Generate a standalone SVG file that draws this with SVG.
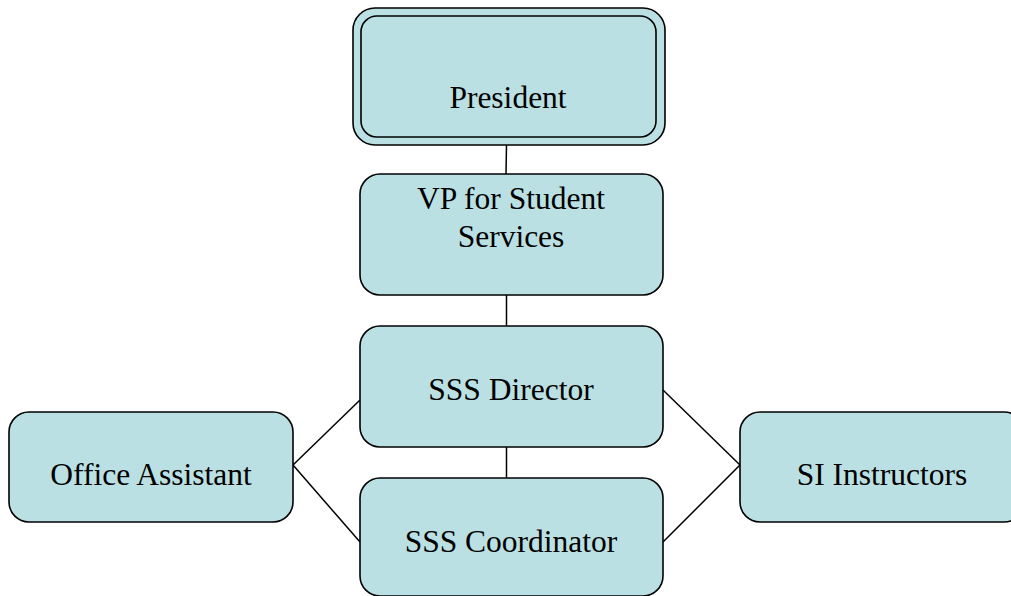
<svg xmlns="http://www.w3.org/2000/svg" width="1011" height="596" viewBox="0 0 1011 596">
  <style>
    .box { fill: #bae0e3; stroke: #000; stroke-width: 1.6; }
    .lbl { font-family: "Liberation Serif", "Times New Roman", serif; font-size: 31.5px; fill: #000; text-anchor: middle; }
    .conn line { stroke: #000; stroke-width: 1.5; }
  </style>
  <rect width="1011" height="596" fill="#fff"/>

  <!-- reporting lines -->
  <g id="connectors" class="conn">
    <line x1="506.5" y1="145" x2="506" y2="174"/>
    <line x1="506.5" y1="295" x2="506.5" y2="326"/>
    <line x1="506.5" y1="447" x2="506.5" y2="478"/>
    <line x1="293" y1="465" x2="360" y2="400"/>
    <line x1="293" y1="465" x2="360" y2="542"/>
    <line x1="663" y1="390" x2="740" y2="465"/>
    <line x1="740" y1="465" x2="663" y2="542"/>
  </g>

  <g id="president">
    <rect class="box" x="353" y="8" width="312" height="137" rx="22"/>
    <rect class="box" x="361" y="16" width="295" height="121" rx="16"/>
    <text class="lbl" x="508" y="108">President</text>
  </g>

  <g id="vp-student-services">
    <rect class="box" x="360" y="174" width="303" height="121" rx="20"/>
    <text class="lbl" x="511" y="209">VP for Student</text>
    <text class="lbl" x="511" y="247">Services</text>
  </g>

  <g id="sss-director">
    <rect class="box" x="360" y="326" width="303" height="121" rx="20"/>
    <text class="lbl" x="511" y="400">SSS Director</text>
  </g>

  <g id="sss-coordinator">
    <rect class="box" x="360" y="478" width="303" height="118" rx="20"/>
    <text class="lbl" x="511" y="552">SSS Coordinator</text>
  </g>

  <g id="office-assistant">
    <rect class="box" x="9" y="412" width="284" height="110" rx="20"/>
    <text class="lbl" x="151" y="485">Office Assistant</text>
  </g>

  <g id="si-instructors">
    <rect class="box" x="740" y="412" width="284" height="110" rx="20"/>
    <text class="lbl" x="882" y="485">SI Instructors</text>
  </g>
</svg>
